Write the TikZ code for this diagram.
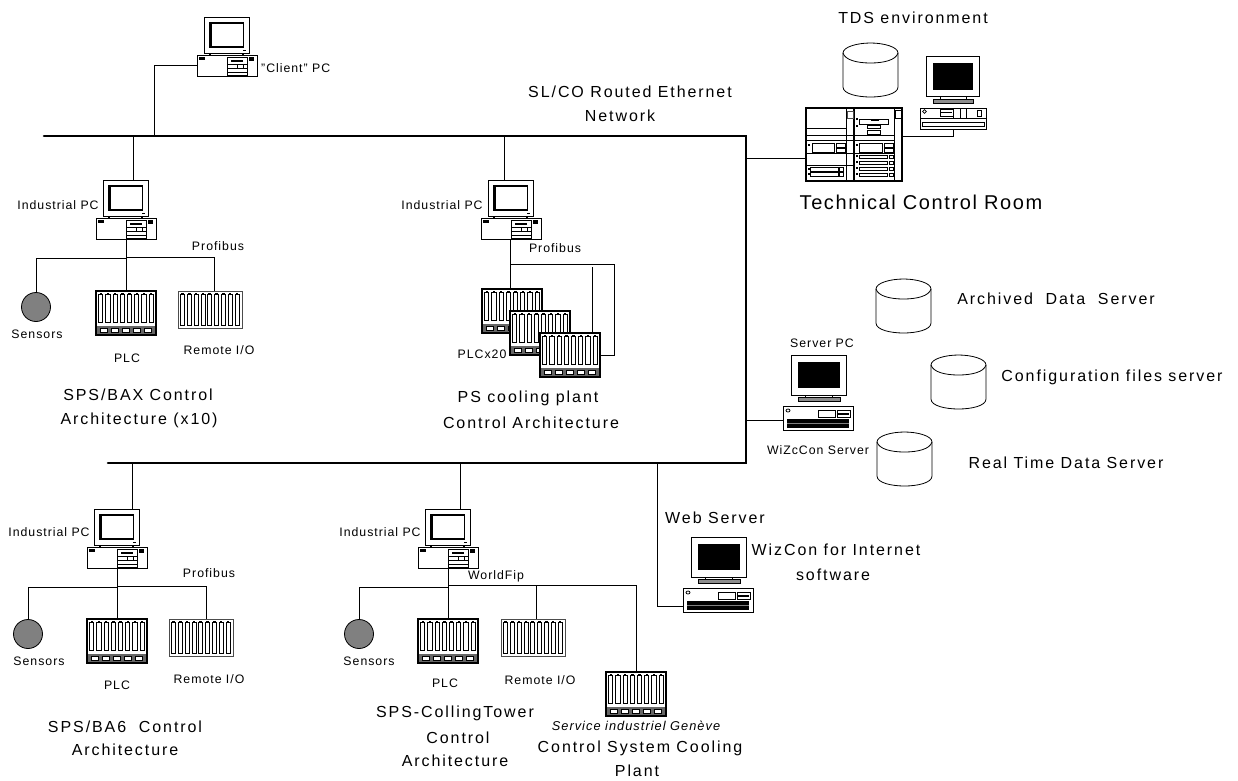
\documentclass[tikz,border=0pt]{standalone}
\usepackage{fontspec}
\setmainfont[LetterSpace=8]{Liberation Sans}
\newfontfamily\widefont[LetterSpace=12]{Liberation Sans}
\usetikzlibrary{calc}

\tikzset{
  x=1pt,y=-1pt,
  lab/.style={inner sep=0pt,font=\fontsize{12.3}{14}\selectfont},
  mid/.style={inner sep=0pt,font=\widefont\fontsize{16}{18}\selectfont},
  large/.style={inner sep=0pt,font=\fontsize{20}{24}\selectfont},
  bus/.style={line width=2.6pt,line cap=round},
  wire/.style={line width=0.8pt},
  box/.style={draw,fill=white,anchor=north west,inner sep=0pt,outer sep=0pt,line width=1pt},
  sensor/.style={draw,circle,fill=black!50,inner sep=0pt,outer sep=0pt,minimum size=29pt,line width=0.8pt},
  slots/.pic={
    \foreach \i in {0,...,7} {
      \draw[fill=white,line width=0.8pt] (2.6+7.2*\i,3) rectangle (6.8+7.2*\i,31);
      \fill (3.5+7.2*\i,2) rectangle (6+7.2*\i,4);
    }
  },
  plcrack/.pic={
    \node[box,minimum width=60pt,minimum height=44pt,line width=1.3pt] (-box) at (0,0) {};
    \pic at (0,0) {slots};
    \fill[black!60] (1,35) rectangle (59,43);
    \foreach \i in {0,...,4}
      \draw[fill=white,line width=0.6pt] (4+11*\i,37) rectangle (11+11*\i,41);
  },
  remrack/.pic={
    \node[box,minimum width=64pt,minimum height=37pt,draw=black!70] (-box) at (0,0) {};
    \foreach \i in {0,...,8} {
      \draw[fill=white,line width=0.7pt] (2.5+6.8*\i,3) rectangle (6.5+6.8*\i,34);
      \fill (3.2+6.8*\i,2) rectangle (5.8+6.8*\i,4);
    }
  },
  diskunit/.pic={
    \draw[fill=white,line width=0.8pt] (0,10) .. controls (0,4) and (14,0) .. (27.5,0)
      .. controls (41,0) and (55,4) .. (55,10) -- (55,44)
      .. controls (55,51) and (40,54) .. (27.5,54)
      .. controls (15,54) and (0,51) .. (0,44) -- cycle;
    \draw[line width=0.8pt] (0,10) .. controls (2,17) and (14,20) .. (27.5,20)
      .. controls (41,20) and (53,17) .. (55,10);
  },
  deskpc/.pic={
    \node[box,minimum width=45pt,minimum height=36pt] (-mon) at (7,-38) {};
    \draw[line width=0.8pt] (12.5,-32) rectangle (46.5,-8);
    \fill (12,-33) rectangle (47,-31);
    \fill (12,-33) rectangle (15,-8);
    \fill (12,-9) rectangle (47,-8);
    \fill (46,-5) rectangle (49,-4);
    \draw[line width=0.8pt] (7,-2) -- (52,-2);
    \fill (12,-2) rectangle (14,0);
    \fill (45,-2) rectangle (47,0);
    \node[box,minimum width=60pt,minimum height=21pt] (-base) at (0,0) {};
    \fill (2,2) rectangle (8,4.5);
    \draw[line width=0.7pt] (30,2) rectangle (50,20);
    \fill (34,5) rectangle (46,7);
    \draw[line width=0.6pt] (30,9) -- (50,9) (30,13) -- (50,13) (30,17) -- (50,17);
    \draw[line width=0.6pt] (40,9) rectangle (46,13);
    \fill (52,2) rectangle (57,6);
  },
  flatpc/.pic={
    \node[box,minimum width=55pt,minimum height=40pt] (-mon) at (8,-51) {};
    \fill (15,-44) rectangle (57,-18);
    \draw[line width=0.7pt] (22,-11) -- (22,-8) (49,-11) -- (49,-8);
    \draw[fill=black!45,line width=0.7pt] (15,-9) rectangle (57,-5);
    \node[box,minimum width=70pt,minimum height=24pt] (-base) at (0,0) {};
    \draw[line width=0.8pt] (5,4.5) ellipse (2pt and 1.5pt);
    \draw[line width=0.7pt] (35,4) rectangle (52,11);
    \draw[line width=0.7pt] (54,4) rectangle (67,11);
    \fill (55,7) rectangle (66,8.5);
    \fill (4,13) rectangle (66,22);
    \draw[black!50,line width=0.6pt] (4,17.5) -- (66,17.5);
  },
  tdspc/.pic={
    \node[box,minimum width=53pt,minimum height=40pt] (-mon) at (6,-52) {};
    \fill (13,-45) rectangle (53,-18);
    \draw[line width=0.7pt] (20,-12) -- (20,-8) (46,-12) -- (46,-8);
    \draw[fill=black!45,line width=0.7pt] (13,-9) rectangle (53,-5);
    \node[box,minimum width=66pt,minimum height=21pt] (-base) at (0,0) {};
    \draw[line width=0.7pt] (4.5,3.5) circle (1.8pt);
    \draw[line width=0.7pt] (20,1) rectangle (33,8);
    \fill (21,4) rectangle (32,5);
    \draw[line width=0.6pt] (33,1) -- (33,10) (40,1) -- (40,10) (46,1) -- (46,10);
    \draw[line width=0.7pt] (57,2) rectangle (61,8);
    \draw[line width=0.7pt] (0,10) -- (66,10);
    \draw[line width=0.7pt] (2,14) rectangle (64,18);
  },
  tower/.pic={
    \node[box,minimum width=48pt,minimum height=73pt,line width=1.3pt] (-left) at (0,0) {};
    \node[box,minimum width=48pt,minimum height=73pt,line width=1.3pt] (-right) at (48,0) {};
    \draw[black!70,line width=0.8pt,fill=white] (41,3) rectangle (47,10);
    \draw[line width=0.8pt] (0,20) -- (40,20) (0,27) -- (48,27) (0,32) -- (48,32) (0,45) -- (48,45) (0,57) -- (48,57);
    \draw[line width=0.8pt] (40,0) -- (40,73);
    \draw[line width=0.7pt] (6,35) rectangle (28,44);
    \fill (2,36) rectangle (4,38);
    \draw[line width=0.6pt] (30,35) rectangle (39,39) (30,40) rectangle (39,44);
    \foreach \r in {59,64} {
      \draw[line width=0.7pt] (4,\r) rectangle (32,\r+4);
      \draw[line width=0.6pt] (33,\r) rectangle (37,\r+4);
      \fill (2,\r+1) rectangle (4,\r+3);
    }
    \draw[line width=0.8pt,fill=white] (89,2) rectangle (95,10);
    \draw[line width=0.8pt] (48,27) -- (88,27) (48,32) -- (88,32) (48,45) -- (88,45);
    \draw[line width=0.8pt] (88,0) -- (88,73);
    \draw[line width=0.7pt] (53,11.5) rectangle (82,16);
    \fill (65,11) rectangle (73,13);
    \fill (50,10) rectangle (52,12);
    \fill (50,17) rectangle (52,19);
    \draw[line width=0.6pt] (61,17) rectangle (74,20.5) (61,22.5) rectangle (74,26);
    \draw[line width=0.7pt] (53,35) rectangle (76,44);
    \fill (50,36) rectangle (52,38);
    \draw[line width=0.6pt] (78,35) rectangle (87,39) (78,40) rectangle (87,44);
    \foreach \r in {47,53,59,65} {
      \draw[line width=0.7pt] (53,\r) rectangle (81,\r+3.5);
      \draw[line width=0.6pt] (83,\r) rectangle (87,\r+3.5);
      \fill (50,\r) rectangle (52,\r+2);
    }
  },
}

\begin{document}
\begin{tikzpicture}
\useasboundingbox (0,0) rectangle (1238,780);

\draw[bus] (44,136) -- (746,136) -- (746,463) -- (108,463);
\coordinate (busClient) at (154,136);
\coordinate (busBax) at (133,136);
\coordinate (busPs) at (504,136);
\coordinate (busTds) at (746,158);
\coordinate (busSrv) at (746,420);
\coordinate (busBa6) at (132,463);
\coordinate (busTower) at (460,463);
\coordinate (busWeb) at (657,463);

% client
\pic (pcClient) at (197,55) {deskpc};
\draw[wire] (pcClient-base.west) -| (busClient);
\node[lab,anchor=west] (txtClient) at (261,68) {"Client" PC};
\node[mid] (txtNet) at (630,92) {SL/CO Routed Ethernet};
\node[mid] (txtNet2) at (620,116) {Network};

% SPS/BAX
\pic (pcBax) at (96,218) {deskpc};
\draw[wire] (busBax) -- (busBax |- pcBax-mon.north);
\pic (plcBax) at (96,291) {plcrack};
\pic (remBax) at (178,291) {remrack};
\node[sensor] (senBax) at (36,307) {};
\coordinate (jBax) at (126,258);
\coordinate (jBax2) at (214,257);
\draw[wire] (pcBax-base.south) -- (plcBax-box.north);
\draw[wire] (jBax) -| (senBax.north);
\draw[wire] (jBax) |- (jBax2) -- (jBax2 |- remBax-box.north);
\node[lab] (txtBaxPc) at (58,205) {Industrial PC};
\node[lab] (txtBaxBus) at (218,246) {Profibus};
\node[lab] (txtBaxSen) at (37,334) {Sensors};
\node[lab] (txtBaxPlc) at (127,358) {PLC};
\node[lab] (txtBaxRem) at (219,350) {Remote I/O};
\node[mid] (txtBax) at (138,395) {SPS/BAX Control};
\node[mid] (txtBax2) at (139,420) {Architecture (x10)};

% PS cooling
\pic (pcPs) at (481,218) {deskpc};
\draw[wire] (busPs) -- (busPs |- pcPs-mon.north);
\pic (plcPsA) at (482,289) {plcrack};
\pic (plcPsB) at (510,311) {plcrack};
\pic (plcPsC) at (540,333) {plcrack};
\coordinate (jPs) at (510,264);
\coordinate (jPsB) at (592,267);
\coordinate (jPsC) at (614,264);
\draw[wire] (pcPs-base.south -| jPs) -- (jPs |- plcPsA-box.north);
\draw[wire] (jPs) -- (jPsC) |- (plcPsC-box.east);
\draw[wire] (jPsB) |- (plcPsB-box.east);
\node[lab] (txtPsPc) at (442,205) {Industrial PC};
\node[lab] (txtPsBus) at (555,248) {Profibus};
\node[lab] (txtPsPlc) at (482,354) {PLCx20};
\node[mid] (txtPs) at (528,398) {PS cooling plant};
\node[mid] (txtPs2) at (531,423) {Control Architecture};

% TDS
\node[mid] (txtTds) at (913,18) {TDS environment};
\pic (dskTds) at (843,43) {diskunit};
\pic (pcTds) at (920,108) {tdspc};
\pic (twr) at (806,108) {tower};
\draw[wire] (busTds) -- (busTds -| twr-left.west);
\coordinate (jTds) at (953,136);
\draw[wire] (twr-right.east |- jTds) -- (jTds) -- (pcTds-base.south -| jTds);
\node[large] (txtRoom) at (921,202) {Technical Control Room};

% servers
\pic (pcSrv) at (783,406) {flatpc};
\draw[wire] (busSrv) -- (busSrv -| pcSrv-base.west);
\node[lab] (txtSrvPc) at (822,343) {Server PC};
\node[lab] (txtSrv) at (818,450) {WiZcCon Server};
\pic (dskArch) at (876,279) {diskunit};
\pic (dskConf) at (931,355) {diskunit};
\pic (dskReal) at (877,432) {diskunit};
\node[mid] (txtArch) at (1056,299) {Archived\ \ Data\ \ Server};
\node[mid] (txtConf) at (1112,377) {Configuration files server};
\node[mid] (txtReal) at (1066,463) {Real Time Data Server};

% web
\pic (pcWeb) at (683,588) {flatpc};
\coordinate (jWeb) at (657,606);
\draw[wire] (busWeb) -- (jWeb) -- (jWeb -| pcWeb-base.west);
\node[mid] (txtWeb) at (715,518) {Web Server};
\node[mid] (txtWiz) at (836,550) {WizCon for Internet};
\node[mid] (txtWiz2) at (833,575) {software};

% SPS/BA6
\pic (pcBa6) at (87,547) {deskpc};
\draw[wire] (busBa6) -- (busBa6 |- pcBa6-mon.north);
\pic (plcBa6) at (87,619) {plcrack};
\pic (remBa6) at (169,619) {remrack};
\node[sensor] (senBa6) at (28,634) {};
\coordinate (jBa6) at (117,587);
\coordinate (jBa62) at (206,586);
\draw[wire] (pcBa6-base.south) -- (plcBa6-box.north);
\draw[wire] (jBa6) -| (senBa6.north);
\draw[wire] (jBa6 |- jBa62) -- (jBa62) -- (jBa62 |- remBa6-box.north);
\node[lab] (txtBa6Pc) at (49,532) {Industrial PC};
\node[lab] (txtBa6Bus) at (209,573) {Profibus};
\node[lab] (txtBa6Sen) at (39,661) {Sensors};
\node[lab] (txtBa6Plc) at (117,685) {PLC};
\node[lab] (txtBa6Rem) at (209,679) {Remote I/O};
\node[mid] (txtBa6) at (125,727) {SPS/BA6\ \ Control};
\node[mid] (txtBa62) at (125,750) {Architecture};

% cooling tower
\pic (pcTwr) at (418,547) {deskpc};
\draw[wire] (busTower) -- (busTower |- pcTwr-mon.north);
\pic (plcTwr) at (418,619) {plcrack};
\pic (remTwr) at (501,619) {remrack};
\pic (plcSig) at (606,672) {plcrack};
\node[sensor] (senTwr) at (359,634) {};
\coordinate (jTwr) at (448,587);
\coordinate (jTwr2) at (536,585);
\draw[wire] (pcTwr-base.south) -- (plcTwr-box.north);
\draw[wire] (jTwr) -| (senTwr.north);
\draw[wire] (jTwr |- jTwr2) -- (jTwr2) -- (jTwr2 |- remTwr-box.north);
\draw[wire] (jTwr2) -| (plcSig-box.north);
\node[lab] (txtTwrPc) at (380,532) {Industrial PC};
\node[lab] (txtTwrBus) at (496,576) {WorldFip};
\node[lab] (txtTwrSen) at (369,661) {Sensors};
\node[lab] (txtTwrPlc) at (445,683) {PLC};
\node[lab] (txtTwrRem) at (540,680) {Remote I/O};
\node[mid] (txtTwr) at (455,713) {SPS-CollingTower};
\node[mid] (txtTwr2) at (458,738) {Control};
\node[mid] (txtTwr3) at (455,761) {Architecture};
\node[lab,font=\fontsize{12.8}{14}\selectfont\itshape] (txtSig) at (636,726) {Service industriel Genève};
\node[mid] (txtSig2) at (640,748) {Control System Cooling};
\node[mid] (txtSig3) at (637,771) {Plant};
\end{tikzpicture}
\end{document}
